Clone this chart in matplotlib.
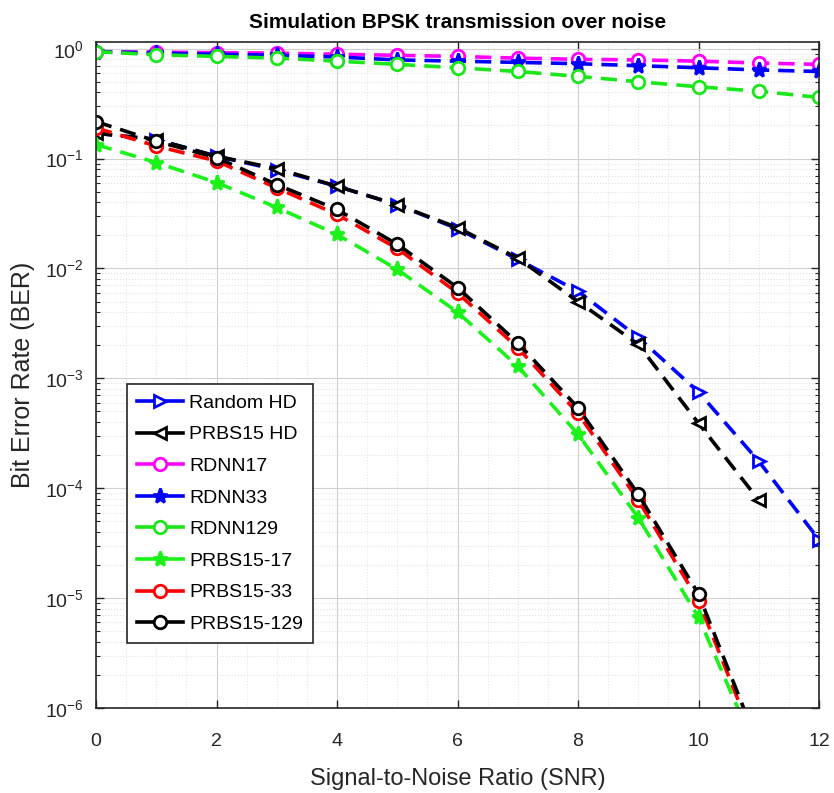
import matplotlib
matplotlib.use("Agg")
import matplotlib.pyplot as plt
import numpy as np
from matplotlib.ticker import LogLocator, FixedLocator

plt.rcParams['font.family'] = ['Liberation Sans', 'DejaVu Sans']
plt.rcParams['mathtext.fontset'] = 'custom'
plt.rcParams['mathtext.rm'] = 'Liberation Sans'
plt.rcParams['mathtext.default'] = 'regular'

snr = [0, 1, 2, 3, 4, 5, 6, 7, 8, 9, 10, 11, 12]
snr_11 = [0, 1, 2, 3, 4, 5, 6, 7, 8, 9, 10, 11]

random_hd = [0.17, 0.149, 0.105, 0.079, 0.056, 0.038, 0.023, 0.0121, 0.0062, 0.00236, 0.00075, 0.000176, 3.4e-5]
prbs15_hd = [0.17, 0.149, 0.105, 0.081, 0.056, 0.038, 0.0235, 0.0124, 0.0050, 0.00204, 0.00039, 7.8e-5]
rdnn17 = [0.94, 0.93, 0.92, 0.91, 0.89, 0.87, 0.85, 0.82, 0.80, 0.79, 0.77, 0.74, 0.72]
rdnn33 = [0.94, 0.91, 0.89, 0.87, 0.84, 0.79, 0.77, 0.75, 0.73, 0.70, 0.67, 0.64, 0.62]
rdnn129 = [0.94, 0.88, 0.85, 0.82, 0.77, 0.72, 0.67, 0.62, 0.56, 0.50, 0.45, 0.41, 0.36]
prbs15_17 = [0.134, 0.092, 0.0605, 0.0359, 0.0204, 0.0098, 0.0040, 0.00129, 0.00031, 5.4e-5, 6.7e-6, 3.6e-7]
prbs15_33 = [0.19, 0.13, 0.095, 0.054, 0.031, 0.0152, 0.0060, 0.0019, 0.00048, 7.8e-5, 9.5e-6, 4.0e-7]
prbs15_129 = [0.217, 0.144, 0.102, 0.058, 0.0344, 0.0166, 0.0067, 0.0021, 0.00054, 8.8e-5, 1.09e-5, 4.5e-7]

series = [
    ("Random HD", snr, random_hd, (0, 0, 1), '>', 'white'),
    ("PRBS15 HD", snr_11, prbs15_hd, (0, 0, 0), '<', 'white'),
    ("RDNN17", snr, rdnn17, (1, 0, 1), 'o', 'white'),
    ("RDNN33", snr, rdnn33, (0, 0, 1), '*', None),
    ("RDNN129", snr, rdnn129, (0.1, 0.9, 0.1), 'o', 'white'),
    ("PRBS15-17", snr_11, prbs15_17, (0.1, 0.95, 0.1), '*', None),
    ("PRBS15-33", snr_11, prbs15_33, (1, 0, 0), 'o', 'white'),
    ("PRBS15-129", snr_11, prbs15_129, (0, 0, 0), 'o', 'white'),
]

fig = plt.figure(figsize=(8.34, 7.93), dpi=100)
ax = fig.add_axes([96 / 834, 1 - 708 / 793, (819 - 96) / 834, (708 - 42) / 793])

for name, x, y, c, m, fc in series:
    ax.plot(x, y, linestyle='--', dashes=(4.5, 2.5), color=c, linewidth=2.6,
            marker=m, markersize=9 if m != '*' else 11,
            markerfacecolor=(fc if fc else c), markeredgecolor=c,
            markeredgewidth=2.0, label=name)

ax.set_yscale('log')
ax.set_xlim(0, 12)
ax.set_ylim(1e-6, 1.15)
ax.set_xticks([0, 2, 4, 6, 8, 10, 12])
ax.yaxis.set_major_locator(FixedLocator([1e-6, 1e-5, 1e-4, 1e-3, 1e-2, 1e-1, 1]))
ax.set_yticklabels(['$10^{-6}$', '$10^{-5}$', '$10^{-4}$', '$10^{-3}$', '$10^{-2}$', '$10^{-1}$', '$10^{0}$'])
ax.yaxis.set_minor_locator(LogLocator(base=10, subs=np.arange(2, 10), numticks=20))
ax.xaxis.set_minor_locator(FixedLocator(np.arange(0, 12.01, 0.5)))

ax.grid(True, which='major', color='#d0d0d0', linewidth=0.8)
ax.grid(True, which='minor', axis='y', color='#e0e0e0', linestyle=':', linewidth=0.8)
ax.grid(True, which='minor', axis='x', color='#e6e6e6', linestyle=':', linewidth=0.8)
ax.set_axisbelow(True)

gray = '#262626'
ax.tick_params(which='both', direction='in', top=True, right=True, colors=gray, labelsize=14)
ax.tick_params(which='major', length=6, width=1)
ax.tick_params(which='minor', length=3, width=0.8)
ax.tick_params(axis='x', which='minor', length=0)
ax.tick_params(axis='x', which='major', pad=18)
ax.tick_params(axis='y', which='major', pad=9)
for s in ax.spines.values():
    s.set_color(gray)
    s.set_linewidth(1.2)

ax.set_xlabel('Signal-to-Noise Ratio (SNR)', fontsize=17, color=gray, labelpad=13)
ax.set_ylabel('Bit Error Rate (BER)', fontsize=18, color=gray, labelpad=7)
ax.set_title('Simulation BPSK transmission over noise', fontsize=15, fontweight='bold', color='black', pad=10)

leg = ax.legend(loc='lower left', bbox_to_anchor=(0.043, 0.098), fontsize=14, frameon=True,
                fancybox=False, edgecolor=gray, framealpha=1, handlelength=2.4,
                labelspacing=0.72, borderpad=0.5, handletextpad=0.3, borderaxespad=0)
leg.get_frame().set_linewidth(1.2)
for line in leg.get_lines():
    line.set_linestyle('-')

fig.savefig('out.png', dpi=100)
